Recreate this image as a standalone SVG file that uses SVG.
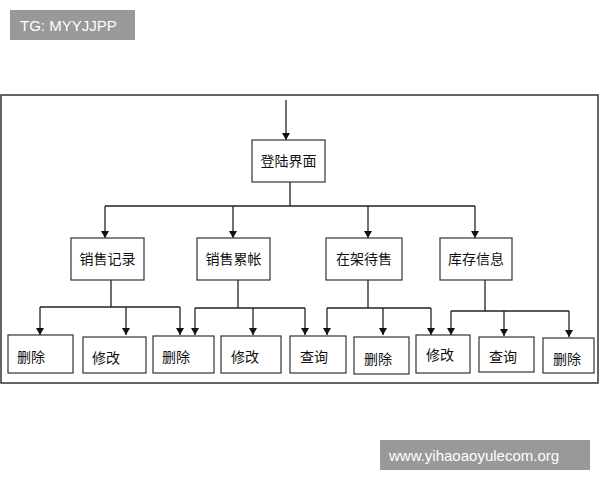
<svg xmlns="http://www.w3.org/2000/svg" width="600" height="480" viewBox="0 0 600 480">
<defs><marker id="a" markerWidth="8" markerHeight="8" refX="7" refY="4" orient="auto" markerUnits="userSpaceOnUse"><path d="M0,0 L7,4 L0,8 z" fill="#111"/></marker></defs>
<style>
.b{fill:#fff;stroke:#333;stroke-width:1.2}
.t{font-family:"Noto Sans CJK SC",sans-serif;font-size:14px;fill:#111}
.c{fill:none;stroke:#222;stroke-width:1.3}
.ar{marker-end:url(#a)}
.w{font-family:"Liberation Sans",Arial,sans-serif;font-size:15px;fill:#fff}
</style>
<rect width="600" height="480" fill="#fff"/>
<rect x="1" y="95" width="597" height="288" fill="none" stroke="#333" stroke-width="1.5"/>
<g id="connectors">
<line class="c ar" x1="286" y1="100" x2="286" y2="140"/>
<path class="c" d="M290 182 V206 M105 206 H475"/>
<line class="c ar" x1="105" y1="206" x2="105" y2="238"/>
<line class="c ar" x1="233" y1="206" x2="233" y2="238"/>
<line class="c ar" x1="368" y1="206" x2="368" y2="238"/>
<line class="c ar" x1="475" y1="206" x2="475" y2="238"/>
<path class="c" d="M111 280 V307 M40 307 H180"/>
<line class="c ar" x1="40" y1="307" x2="40" y2="335"/>
<line class="c ar" x1="126" y1="307" x2="126" y2="335"/>
<line class="c ar" x1="180" y1="307" x2="180" y2="335"/>
<path class="c" d="M238 280 V308 M195 308 H305"/>
<line class="c ar" x1="195" y1="308" x2="195" y2="335"/>
<line class="c ar" x1="253" y1="308" x2="253" y2="335"/>
<line class="c ar" x1="305" y1="308" x2="305" y2="335"/>
<path class="c" d="M368 280 V308 M327 308 H431"/>
<line class="c ar" x1="327" y1="308" x2="327" y2="335"/>
<line class="c ar" x1="383" y1="308" x2="383" y2="335"/>
<line class="c ar" x1="431" y1="308" x2="431" y2="335"/>
<path class="c" d="M485 280 V311 M451 311 H569"/>
<line class="c ar" x1="451" y1="311" x2="451" y2="335"/>
<line class="c ar" x1="504" y1="311" x2="504" y2="336"/>
<line class="c ar" x1="569" y1="311" x2="569" y2="337"/>
</g>
<g id="root"><rect class="b" x="252" y="140" width="73" height="42"/><text class="t" x="288.5" y="166" text-anchor="middle">登陆界面</text></g>
<g id="n1"><rect class="b" x="71" y="238" width="73" height="42"/><text class="t" x="107.5" y="264" text-anchor="middle">销售记录</text></g>
<g id="n2"><rect class="b" x="197" y="238" width="73" height="42"/><text class="t" x="233.5" y="264" text-anchor="middle">销售累帐</text></g>
<g id="n3"><rect class="b" x="326" y="238" width="76" height="42"/><text class="t" x="364" y="264" text-anchor="middle">在架待售</text></g>
<g id="n4"><rect class="b" x="440" y="238" width="72" height="42"/><text class="t" x="476" y="264" text-anchor="middle">库存信息</text></g>
<g id="l1"><rect class="b" x="8" y="335" width="65" height="38"/><text class="t" x="17" y="362">删除</text></g>
<g id="l2"><rect class="b" x="83" y="337" width="63" height="36"/><text class="t" x="92" y="363">修改</text></g>
<g id="l3"><rect class="b" x="153" y="336" width="61" height="37"/><text class="t" x="162" y="362">删除</text></g>
<g id="l4"><rect class="b" x="221" y="336" width="60" height="37"/><text class="t" x="231" y="362">修改</text></g>
<g id="l5"><rect class="b" x="290" y="336" width="56" height="37"/><text class="t" x="300" y="362">查询</text></g>
<g id="l6"><rect class="b" x="354" y="337" width="55" height="37"/><text class="t" x="364" y="364">删除</text></g>
<g id="l7"><rect class="b" x="416" y="335" width="54" height="38"/><text class="t" x="426" y="360">修改</text></g>
<g id="l8"><rect class="b" x="479" y="337" width="55" height="35"/><text class="t" x="489" y="362">查询</text></g>
<g id="l9"><rect class="b" x="543" y="338" width="51" height="35"/><text class="t" x="553" y="364">删除</text></g>
<rect x="10" y="10" width="125" height="30" fill="#999"/>
<text class="w" x="20" y="31">TG: MYYJJPP</text>
<rect x="380" y="440" width="210" height="30" fill="#999"/>
<text class="w" x="389" y="461">www.yihaoaoyulecom.org</text>
</svg>
